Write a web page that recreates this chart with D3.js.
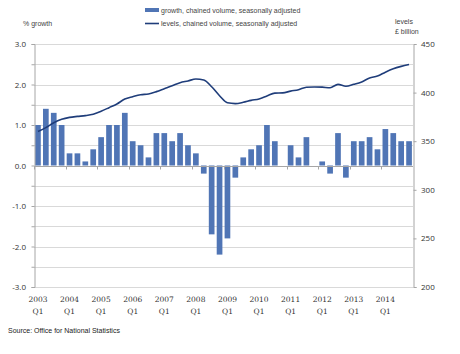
<!DOCTYPE html>
<meta charset="utf-8" />
<title>GDP growth and levels</title>
<style>
  body { margin: 0; background: #fff; }
  svg { display: block; }
  .lab { font-family: "Liberation Sans", Arial, sans-serif; font-size: 7px; fill: #444; }
  .tick-lab { font-family: "DejaVu Serif", serif; font-size: 7.5px; fill: #333; }
  .y-lab { font-family: "Open Sans", "Liberation Sans", sans-serif; font-size: 8px; fill: #333; }
</style>
<svg width="460" height="354"></svg>
<script src="https://d3js.org/d3.v7.min.js"></script>
<script>
const width = 460, height = 354;
const svg = d3.select("svg");

const years = ["2003","2004","2005","2006","2007","2008","2009","2010","2011","2012","2013","2014"];
const quarters = ["Q1","Q2","Q3","Q4"];

// quarter-on-quarter growth, %
const growth = [
  1.0, 1.4, 1.3, 1.0,
  0.3, 0.3, 0.1, 0.4,
  0.7, 1.0, 1.0, 1.3,
  0.6, 0.5, 0.2, 0.8,
  0.8, 0.6, 0.8, 0.5,
  0.3, -0.2, -1.7, -2.2,
  -1.8, -0.3, 0.2, 0.4,
  0.5, 1.0, 0.6, 0.0,
  0.5, 0.2, 0.7, 0.0,
  0.1, -0.2, 0.8, -0.3,
  0.6, 0.6, 0.7, 0.4,
  0.9, 0.8, 0.6, 0.6
];

// levels, £ billion
const levels = [
  360, 364, 369, 372.5,
  374.5, 375.5, 376.3, 377.7,
  380.8, 384.5, 388.3, 393.4,
  395.8, 397.8, 398.6, 401,
  404, 407, 410.2, 412,
  414, 413, 406, 396.8,
  389.5, 388.7, 390, 392,
  393.5, 396.5, 399.5, 399.7,
  401.5, 403, 405.5, 405.8,
  405.6, 405, 408.5, 406.5,
  408.5, 411, 415, 417,
  421, 424.5, 427, 429
];

const leftTicks = [3, 2, 1, 0, -1, -2, -3];
const rightTicks = [450, 400, 350, 300, 250, 200];

const periods = [];
years.forEach(y => quarters.forEach(q => periods.push(y + " " + q)));

const plot = { left: 34, right: 413, top: 44, bottom: 287 };

const x = d3.scaleBand().domain(periods).range([plot.left, plot.right]).paddingInner(0.28).paddingOuter(0.14);
const yL = d3.scaleLinear().domain([-3, 3]).range([plot.bottom, plot.top]);
const yR = d3.scaleLinear().domain([200, 450]).range([plot.bottom, plot.top]);

// gridlines every 0.5
const grid = d3.range(-3, 3.01, 0.5);
svg.append("g").selectAll("line").data(grid).enter().append("line")
  .attr("x1", plot.left).attr("x2", plot.right)
  .attr("y1", d => Math.round(yL(d)) + 0.5).attr("y2", d => Math.round(yL(d)) + 0.5)
  .attr("stroke", "#d9d9d9").attr("stroke-width", 1);

// bars
svg.append("g").selectAll("rect").data(growth).enter().append("rect")
  .attr("x", (d, i) => x(periods[i]))
  .attr("width", x.bandwidth())
  .attr("y", d => yL(Math.max(0, d)))
  .attr("height", d => Math.abs(yL(d) - yL(0)))
  .attr("fill", "#5075b5");

// zero axis with year ticks
const zeroY = Math.round(yL(0)) + 0.5;
svg.append("line").attr("x1", plot.left).attr("x2", plot.right)
  .attr("y1", zeroY).attr("y2", zeroY).attr("stroke", "#a6a6a6");
const step = x.step();
svg.append("g").selectAll("line").data(years).enter().append("line")
  .attr("x1", d => Math.round(x(d + " Q1") - step * 0.14) + 0.5)
  .attr("x2", d => Math.round(x(d + " Q1") - step * 0.14) + 0.5)
  .attr("y1", zeroY).attr("y2", zeroY + 3)
  .attr("stroke", "#a6a6a6");

// levels line
const line = d3.line()
  .x((d, i) => x(periods[i]) + x.bandwidth() / 2)
  .y(d => yR(d))
  .curve(d3.curveMonotoneX);
svg.append("path").datum(levels)
  .attr("d", line).attr("fill", "none")
  .attr("stroke", "#1f3d7a").attr("stroke-width", 1.6);

// left axis
const leftAxis = d3.axisLeft(yL).tickValues(d3.range(-3, 3.01, 0.5)).tickSize(3).tickFormat("");
const gl = svg.append("g").attr("transform", `translate(${plot.left + 0.5},0)`).call(leftAxis);
gl.select(".domain").attr("stroke", "#a6a6a6");
gl.selectAll(".tick line").attr("stroke", "#a6a6a6");
svg.append("g").selectAll("text").data(leftTicks).enter().append("text")
  .attr("class", "y-lab")
  .attr("x", 26).attr("y", d => yL(d) + 3)
  .attr("text-anchor", "end")
  .text(d => d.toFixed(1));

// right axis
const rightAxis = d3.axisRight(yR).tickValues(rightTicks).tickSize(3).tickFormat("");
const gr = svg.append("g").attr("transform", `translate(${plot.right + 0.5},0)`).call(rightAxis);
gr.select(".domain").attr("stroke", "#a6a6a6");
gr.selectAll(".tick line").attr("stroke", "#a6a6a6");
svg.append("g").selectAll("text").data(rightTicks).enter().append("text")
  .attr("class", "y-lab")
  .attr("x", 421).attr("y", d => yR(d) + 3)
  .text(d => d);

// x labels
const xl = svg.append("g").selectAll("g").data(years).enter().append("g")
  .attr("transform", d => `translate(${x(d + " Q1") + x.bandwidth() / 2},0)`);
xl.append("text").attr("class", "tick-lab").attr("y", 302).attr("text-anchor", "middle").text(d => d);
xl.append("text").attr("class", "tick-lab").attr("y", 314).attr("text-anchor", "middle").text("Q1");

// axis titles
svg.append("text").attr("class", "lab").attr("x", 23).attr("y", 26).text("% growth");
svg.append("text").attr("class", "lab").attr("x", 395).attr("y", 24).text("levels");
svg.append("text").attr("class", "lab").attr("x", 395).attr("y", 34).text("£ billion");

// legend
svg.append("rect").attr("x", 145).attr("y", 8).attr("width", 14).attr("height", 4).attr("fill", "#5075b5");
svg.append("text").attr("class", "lab").attr("x", 161).attr("y", 13).text("growth, chained volume, seasonally adjusted");
svg.append("line").attr("x1", 145).attr("x2", 159).attr("y1", 23.5).attr("y2", 23.5)
  .attr("stroke", "#1f3d7a").attr("stroke-width", 1.6);
svg.append("text").attr("class", "lab").attr("x", 161).attr("y", 26).text("levels, chained volume, seasonally adjusted");

// source
svg.append("text").attr("x", 8).attr("y", 333)
  .attr("font-family", "Liberation Sans, Arial, sans-serif").attr("font-size", 7).attr("fill", "#222")
  .text("Source: Office for National Statistics");
</script>
